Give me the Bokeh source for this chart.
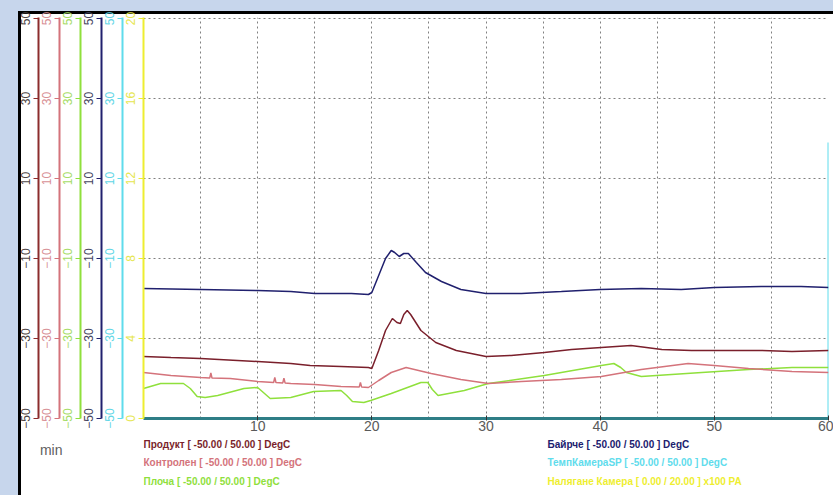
from bokeh.plotting import figure
from bokeh.layouts import column
from bokeh.models import (Range1d, LinearAxis, FixedTicker, Grid, Label)
from bokeh.embed import file_html
from bokeh.resources import INLINE

# ---- data: time in minutes, temperatures in DegC, pressure in x100 Pa ----
t_bay = [0, 5, 10, 12.9, 15, 18.2, 19.7, 20, 20.6, 21.2, 21.7, 22.0, 22.4, 22.8,
         23.2, 23.9, 24.7, 26.1, 27.8, 30, 33.1, 36.6, 40, 43.6, 47.1, 50, 54.1,
         57.6, 60]
v_bay = [-17.5, -17.75, -18, -18.25, -18.75, -18.75, -19, -18.5, -14.25, -10, -8,
         -8.5, -9.5, -8.75, -8.75, -11, -13.5, -15.75, -17.75, -18.75, -18.75,
         -18.25, -17.75, -17.5, -17.75, -17.25, -17, -17, -17.25]

t_prod = [0, 2.4, 5, 10, 12.9, 14.6, 17.3, 19.7, 20, 20.6, 21.2, 21.8, 22.2, 22.5,
          22.8, 23.1, 23.4, 24.3, 25.6, 27.4, 30, 32.2, 35.1, 37.5, 40.1, 42.7,
          45.4, 48, 50, 54.1, 56.8, 60]
v_prod = [-34.5, -34.75, -35, -35.75, -36.25, -36.75, -37, -37.25, -37.5, -33, -28,
          -25, -26, -26.25, -24, -23, -24, -28, -31, -33, -34.5, -34.25, -33.5,
          -32.75, -32.25, -31.75, -32.75, -33, -33, -33, -33.25, -33]

t_kon = [0, 2.4, 5, 5.8, 5.9, 6.0, 7.6, 10, 11.4, 11.5, 11.6, 12.2, 12.3, 12.4,
         12.9, 15, 17.3, 18.9, 19.0, 19.1, 19.7, 20.6, 21.7, 23, 25.2, 27.8, 30.2,
         33.1, 36.6, 40.1, 43.6, 47.7, 50, 53, 56.8, 60]
v_kon = [-38.5, -39.25, -39.75, -39.9, -38.6, -39.9, -40, -40.75, -41.0, -39.7,
         -41.0, -41.1, -39.9, -41.1, -41.25, -41.5, -42, -42.1, -41.0, -42.1,
         -42.25, -40.5, -38.5, -37.25, -38.75, -40.25, -41.25, -40.75, -40.25,
         -39.5, -37.75, -36.25, -36.75, -37.5, -38.25, -38.5]

t_plo = [0, 0.6, 1.5, 3.5, 4.1, 4.7, 5.4, 6.5, 8.8, 10, 10.5, 11.1, 12.9, 14.9,
         17.3, 17.8, 18.3, 19.3, 19.9, 21.7, 24.3, 24.9, 25.3, 25.8, 28.1, 30.2,
         35.1, 40.1, 41.2, 41.8, 42.3, 43.6, 48.9, 53, 56.8, 60]
v_plo = [-42.5, -42, -41.25, -41.25, -42.5, -44.5, -44.75, -44.25, -42.5, -42.25,
         -43.5, -45, -44.75, -43.25, -43, -44.25, -45.75, -46, -45.5, -43.75, -41,
         -41, -42.75, -44.25, -43, -41.25, -39.25, -36.75, -36.25, -37.25, -38.5,
         -39.5, -38.5, -37.75, -37.25, -37.25]

t_sp = [0, 60, 60]
v_sp = [-50, -50, 19]

t_pr = [0, 60]
v_pr = [0, 0]

temp_ticks = [-50, -30, -10, 10, 30, 50]
pres_ticks = [0, 4, 8, 12, 16, 20]
time_ticks = [10, 20, 30, 40, 50, 60]
grid_time = [5, 10, 15, 20, 25, 30, 35, 40, 45, 50, 55, 60]

time_unit = "min"
legend_left = ["Продукт [ -50.00 / 50.00 ] DegC",
               "Контролен [ -50.00 / 50.00 ] DegC",
               "Плоча [ -50.00 / 50.00 ] DegC"]
legend_right = ["Байрче [ -50.00 / 50.00 ] DegC",
                "ТемпКамераSP [ -50.00 / 50.00 ] DegC",
                "Налягане Камера [ 0.00 / 20.00 ] x100 PA"]

# ---- colours ----
C_PROD = "#7a1f2b"
C_KON = "#d4737b"
C_PLO = "#8fe03c"
C_BAY = "#20206e"
C_SP = "#5fdcec"
C_PR = "#eeee30"
BLUE_BG = "#c7d6ec"

# ================= chart =================
# a quarter unit of headroom keeps the top dotted grid line visible
p = figure(width=833, height=436, x_range=Range1d(0, 60), y_range=Range1d(-50, 50.25),
           x_axis_location=None, y_axis_location=None,
           output_backend="svg", toolbar_location=None,
           min_border_left=143, min_border_right=5, min_border_top=17,
           min_border_bottom=18)
p.extra_y_ranges = {r: Range1d(-50, 50.25) for r in ["prod", "kon", "plo", "bay", "sp"]}
p.extra_y_ranges["pr"] = Range1d(0, 20.05)

# drop the automatic grids, the dotted ones are added below
p.center = [r for r in p.center if not isinstance(r, Grid)]

p.outline_line_color = None
p.background_fill_color = "white"
p.border_fill_color = None
p.styles = {
    "background": ("linear-gradient(#ffffff,#ffffff) 21px 14px / 812px 422px no-repeat, "
                   "linear-gradient(#000000,#000000) 18px 11px / 815px 425px no-repeat, "
                   + BLUE_BG),
}

# dotted grid
p.add_layout(Grid(dimension=0, ticker=FixedTicker(ticks=grid_time),
                  grid_line_color="#808080", grid_line_dash="2 3", grid_line_width=1))
p.add_layout(Grid(dimension=1, ticker=FixedTicker(ticks=temp_ticks),
                  grid_line_color="#808080", grid_line_dash="2 3", grid_line_width=1))

# left axes, innermost first
axes_spec = [
    ("pr", pres_ticks, C_PR, "#e6e650"),
    ("sp", temp_ticks, C_SP, "#62d6e6"),
    ("bay", temp_ticks, C_BAY, "#454560"),
    ("plo", temp_ticks, C_PLO, "#a6dc66"),
    ("kon", temp_ticks, C_KON, "#d89096"),
    ("prod", temp_ticks, "#8c2c2c", "#4e4444"),
]
for rng, ticks, lc, tc in axes_spec:
    ax = LinearAxis(y_range_name=rng, ticker=FixedTicker(ticks=ticks),
                    axis_line_color=lc, axis_line_width=2,
                    major_tick_line_color=lc, major_tick_out=5, major_tick_in=0,
                    minor_tick_line_color=None,
                    major_label_orientation="vertical",
                    major_label_text_color=tc,
                    major_label_text_font="Liberation Sans",
                    major_label_text_font_size="12px",
                    major_label_standoff=4)
    p.add_layout(ax, "left")

xax = LinearAxis(ticker=FixedTicker(ticks=time_ticks),
                 axis_line_color="#2e7e86", axis_line_width=3,
                 major_tick_line_color="#333333", major_tick_in=3, major_tick_out=2,
                 minor_tick_line_color=None,
                 major_label_text_color="#5a5a5a",
                 major_label_text_font="Liberation Sans",
                 major_label_text_font_size="14px",
                 major_label_standoff=0)
p.add_layout(xax, "below")

# series
p.line(t_pr, v_pr, y_range_name="pr", line_color=C_PR, line_width=2)
p.line(t_sp, v_sp, y_range_name="sp", line_color=C_SP, line_width=2)
p.line(t_plo, v_plo, y_range_name="plo", line_color=C_PLO, line_width=1.5)
p.line(t_kon, v_kon, y_range_name="kon", line_color=C_KON, line_width=1.5)
p.line(t_prod, v_prod, y_range_name="prod", line_color=C_PROD, line_width=1.5)
p.line(t_bay, v_bay, y_range_name="bay", line_color=C_BAY, line_width=1.5)

# ================= legend strip under the chart =================
# frame lines up with the chart frame; x in page pixels, y grows downwards
q = figure(width=833, height=59, x_range=Range1d(143, 828), y_range=Range1d(59, 0),
           x_axis_location=None, y_axis_location=None,
           output_backend="svg", toolbar_location=None,
           min_border_left=143, min_border_right=5, min_border_top=0,
           min_border_bottom=0)
q.center = [r for r in q.center if not isinstance(r, Grid)]
q.outline_line_color = None
q.background_fill_color = None
q.border_fill_color = None
q.styles = {
    "background": ("linear-gradient(#ffffff,#ffffff) 21px 0px / 812px 59px no-repeat, "
                   "linear-gradient(#000000,#000000) 18px 0px / 3px 59px no-repeat, "
                   + BLUE_BG),
}

# unit of the time axis, shown at the far left
unit_axis = LinearAxis(ticker=FixedTicker(ticks=[3]),
                       major_label_overrides={3: time_unit},
                       axis_line_color=None, major_tick_line_color=None,
                       minor_tick_line_color=None, major_tick_out=0,
                       major_label_standoff=81,
                       major_label_orientation="horizontal",
                       major_label_text_color="#606060",
                       major_label_text_font="Liberation Sans",
                       major_label_text_font_size="14px")
q.add_layout(unit_axis, "left")

left_cols = [C_PROD, C_KON, C_PLO]
right_cols = [C_BAY, C_SP, C_PR]
rows_y = [8, 26, 45]
for txt, col, yy in zip(legend_left, left_cols, rows_y):
    q.add_layout(Label(x=143, y=yy, text=txt, text_color=col,
                       text_font="Liberation Sans", text_font_size="10px",
                       text_font_style="bold", text_baseline="middle"))
for txt, col, yy in zip(legend_right, right_cols, rows_y):
    q.add_layout(Label(x=547, y=yy, text=txt, text_color=col,
                       text_font="Liberation Sans", text_font_size="10px",
                       text_font_style="bold", text_baseline="middle"))

page = column(p, q, spacing=0)
open("out.html", "w").write(file_html(page, INLINE))
